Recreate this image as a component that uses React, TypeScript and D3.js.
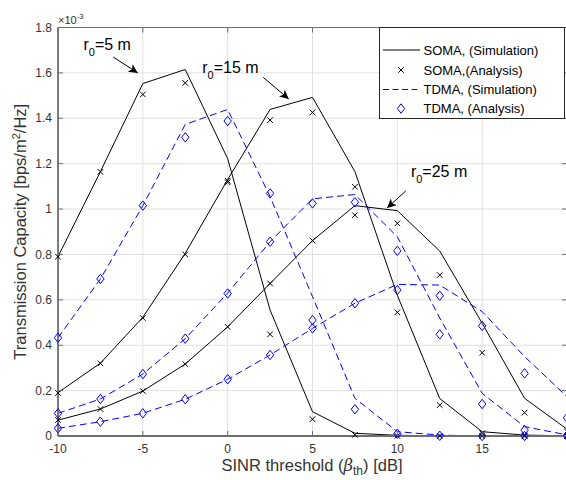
import React from "react";
import * as d3 from "d3";

// ---- data (values in units of 1e-3 bps/m^2/Hz) ----
const sinrDb = [-10, -7.5, -5, -2.5, 0, 2.5, 5, 7.5, 10, 12.5, 15, 17.5, 20];

const somaSimR5 = [0.79, 1.165, 1.553, 1.615, 1.222, 0.555, 0.107, 0.012, 0.003, 0.001, 0, 0, 0];
const somaAnaR5 = [0.79, 1.164, 1.505, 1.556, 1.118, 0.448, 0.074, 0.005, 0.0005, 0, 0, 0, 0];
const somaSimR15 = [0.191, 0.321, 0.523, 0.805, 1.13, 1.439, 1.492, 1.165, 0.62, 0.165, 0.019, 0.004, 0.001];
const somaAnaR15 = [0.19, 0.32, 0.52, 0.8, 1.125, 1.392, 1.426, 1.098, 0.545, 0.136, 0.012, 0.002, 0];
const somaSimR25 = [0.07, 0.119, 0.198, 0.317, 0.481, 0.672, 0.861, 1.015, 0.993, 0.815, 0.497, 0.166, 0.03];
const somaAnaR25 = [0.07, 0.119, 0.198, 0.317, 0.481, 0.672, 0.861, 0.973, 0.937, 0.709, 0.367, 0.103, 0.02];

const tdmaSimR5 = [0.433, 0.692, 1.015, 1.373, 1.439, 1.055, 0.614, 0.166, 0.019, 0.004, 0, 0, 0];
const tdmaAnaR5 = [0.433, 0.692, 1.015, 1.316, 1.388, 1.069, 0.511, 0.118, 0.01, 0.001, 0, 0, 0];
const tdmaSimR15 = [0.1, 0.163, 0.273, 0.429, 0.63, 0.856, 1.045, 1.064, 0.878, 0.52, 0.188, 0.041, 0.005];
const tdmaAnaR15 = [0.1, 0.163, 0.273, 0.429, 0.628, 0.856, 1.025, 1.03, 0.816, 0.448, 0.141, 0.026, 0.003];
const tdmaSimR25 = [0.034, 0.063, 0.1, 0.162, 0.25, 0.357, 0.474, 0.585, 0.668, 0.665, 0.548, 0.35, 0.173];
const tdmaAnaR25 = [0.034, 0.063, 0.1, 0.162, 0.25, 0.357, 0.474, 0.585, 0.643, 0.618, 0.485, 0.276, 0.08];

const xTicks = [-10, -5, 0, 5, 10, 15, 20];
const xTickLabels = ["-10", "-5", "0", "5", "10", "15", ""];
const yTicks = [0, 0.2, 0.4, 0.6, 0.8, 1, 1.2, 1.4, 1.6, 1.8];
const yTickLabels = ["0", "0.2", "0.4", "0.6", "0.8", "1", "1.2", "1.4", "1.6", "1.8"];

const legendLabels = ["SOMA, (Simulation)", "SOMA,(Analysis)", "TDMA, (Simulation)", "TDMA, (Analysis)"];
const annotations = [
  { r: "5", tx: -8.5, ty: 1.7, from: [-6.75, 1.67], to: [-5.3, 1.6] },
  { r: "15", tx: -1.5, ty: 1.6, from: [2.1, 1.58], to: [3.6, 1.485] },
  { r: "25", tx: 10.8, ty: 1.14, from: [10.5, 1.08], to: [9.4, 1.005] },
];

const W = 566;
const H = 480;
const FONT = "'Liberation Sans', Arial, Helvetica, sans-serif";
const BLUE = "#0000ff";
const AXIS = "#6e6e6e";
const TXT = "#333333";
const DASH = "7,4";

export default function App() {
  const x = d3.scaleLinear().domain([-10, 20]).range([58, 567]);
  const y = d3.scaleLinear().domain([0, 1.8]).range([436, 27.5]);
  const [x0, x1] = x.range();
  const [y0, y1] = y.range();

  const line = d3
    .line<number>()
    .x((_, i) => x(sinrDb[i]))
    .y((d) => y(d));

  const simBlack = [somaSimR5, somaSimR15, somaSimR25];
  const anaBlack = [somaAnaR5, somaAnaR15, somaAnaR25];
  const simBlue = [tdmaSimR5, tdmaSimR15, tdmaSimR25];
  const anaBlue = [tdmaAnaR5, tdmaAnaR15, tdmaAnaR25];

  const cross = (cx: number, cy: number, k: string) => {
    const s = 2.8;
    return (
      <path
        key={k}
        d={`M${cx - s},${cy - s}L${cx + s},${cy + s}M${cx - s},${cy + s}L${cx + s},${cy - s}`}
        stroke="#000"
        strokeWidth={1}
        fill="none"
      />
    );
  };
  const diamond = (cx: number, cy: number, k: string) => {
    const w = 3.7;
    const h = 4.7;
    return (
      <path
        key={k}
        d={`M${cx},${cy - h}L${cx + w},${cy}L${cx},${cy + h}L${cx - w},${cy}Z`}
        stroke={BLUE}
        strokeWidth={1}
        fill="none"
      />
    );
  };

  const legX = 379.5;
  const legY = 27.5;
  const legW = 185;
  const legH = 91;
  const legRows = [50, 70, 89.5, 108.5];

  return (
    <svg
      width={W}
      height={H}
      style={{ position: "absolute", left: 0, top: 0, background: "#fff" }}
      fontFamily={FONT}
    >
      <defs>
        <clipPath id="plotClip">
          <rect x={x0} y={y1} width={x1 - x0} height={y0 - y1} />
        </clipPath>
        <marker id="arrowHead" viewBox="0 0 10 10" refX="10" refY="5" markerWidth="11" markerHeight="9" markerUnits="userSpaceOnUse" orient="auto">
          <path d="M0,0L10,5L0,10L2.5,5Z" fill="#000" />
        </marker>
      </defs>
      <rect x={0} y={0} width={W} height={H} fill="#fff" />

      {/* grid */}
      {xTicks.map((t) => (
        <line key={"gx" + t} x1={x(t)} x2={x(t)} y1={y0} y2={y1} stroke="#e0e0e0" strokeWidth={1} />
      ))}
      {yTicks.map((t) => (
        <line key={"gy" + t} x1={x0} x2={x1} y1={y(t)} y2={y(t)} stroke="#e0e0e0" strokeWidth={1} />
      ))}

      {/* series lines */}
      <g clipPath="url(#plotClip)">
        {simBlack.map((s, i) => (
          <path key={"sb" + i} d={line(s) || ""} stroke="#000" strokeWidth={1} fill="none" />
        ))}
        {simBlue.map((s, i) => (
          <path key={"su" + i} d={line(s) || ""} stroke={BLUE} strokeWidth={1} strokeDasharray={DASH} fill="none" />
        ))}
      </g>

      {/* axes box */}
      <line x1={x0} x2={x1} y1={y1} y2={y1} stroke={AXIS} strokeWidth={1} />
      <line x1={x1} x2={x1} y1={y0} y2={y1} stroke={AXIS} strokeWidth={1} />
      <line x1={x0} x2={x1} y1={y0} y2={y0} stroke={AXIS} strokeWidth={1.8} />
      <line x1={x0} x2={x0} y1={y0} y2={y1} stroke={AXIS} strokeWidth={1.8} />

      {/* markers (not clipped, as in MATLAB) */}
      {anaBlack.map((s, i) => s.map((v, j) => cross(x(sinrDb[j]), y(v), `ab${i}-${j}`)))}
      {anaBlue.map((s, i) => s.map((v, j) => diamond(x(sinrDb[j]), y(v), `au${i}-${j}`)))}

      {/* ticks */}
      {xTicks.map((t, i) => (
        <g key={"tx" + t}>
          <line x1={x(t)} x2={x(t)} y1={y0} y2={y0 - 5} stroke={AXIS} />
          <line x1={x(t)} x2={x(t)} y1={y1} y2={y1 + 5} stroke={AXIS} />
          <text x={x(t)} y={y0 + 17} textAnchor="middle" fontSize={12} fill={TXT}>
            {xTickLabels[i]}
          </text>
        </g>
      ))}
      {yTicks.map((t, i) => (
        <g key={"ty" + t}>
          <line x1={x0} x2={x0 + 5} y1={y(t)} y2={y(t)} stroke={AXIS} />
          <line x1={x1} x2={x1 - 5} y1={y(t)} y2={y(t)} stroke={AXIS} />
          <text x={52} y={y(t)} dy="0.35em" textAnchor="end" fontSize={12} fill={TXT}>
            {yTickLabels[i]}
          </text>
        </g>
      ))}

      {/* exponent */}
      <text x={58} y={24} fontSize={11} fill={TXT}>
        ×10
        <tspan dy={-5} fontSize={8}>
          -3
        </tspan>
      </text>

      {/* axis labels */}
      <text x={312} y={471} textAnchor="middle" fontSize={16.5} fill={TXT}>
        SINR threshold (
        <tspan fontFamily="'DejaVu Serif', serif" fontStyle="italic">
          β
        </tspan>
        <tspan dy={4} fontSize={12}>
          th
        </tspan>
        <tspan dy={-4}>) [dB]</tspan>
      </text>
      <text
        transform={`translate(26,${(y0 + y1) / 2}) rotate(-90)`}
        textAnchor="middle"
        fontSize={16.5}
        fill={TXT}
      >
        Transmission Capacity [bps/m
        <tspan dy={-6} fontSize={11}>
          2
        </tspan>
        <tspan dy={6}>/Hz]</tspan>
      </text>

      {/* annotations */}
      {annotations.map((a) => (
        <g key={"an" + a.r}>
          <text x={x(a.tx)} y={y(a.ty)} fontSize={16} fill="#000">
            r
            <tspan dy={6} fontSize={11}>
              0
            </tspan>
            <tspan dy={-6}>={a.r} m</tspan>
          </text>
          <line
            x1={x(a.from[0])}
            y1={y(a.from[1])}
            x2={x(a.to[0])}
            y2={y(a.to[1])}
            stroke="#000"
            strokeWidth={1}
            markerEnd="url(#arrowHead)"
          />
        </g>
      ))}

      {/* legend */}
      <rect x={legX} y={legY} width={legW} height={legH} fill="#fff" stroke="#262626" strokeWidth={1} />
      <line x1={383} x2={420} y1={legRows[0]} y2={legRows[0]} stroke="#000" strokeWidth={1} />
      {cross(401, legRows[1], "lc")}
      <line x1={383} x2={420} y1={legRows[2]} y2={legRows[2]} stroke={BLUE} strokeWidth={1.2} strokeDasharray="6,3.5" />
      {diamond(401, legRows[3], "ld")}
      {legendLabels.map((l, i) => (
        <text key={l} x={423.5} y={legRows[i]} dy="0.36em" fontSize={13} fill="#000">
          {l}
        </text>
      ))}
    </svg>
  );
}
